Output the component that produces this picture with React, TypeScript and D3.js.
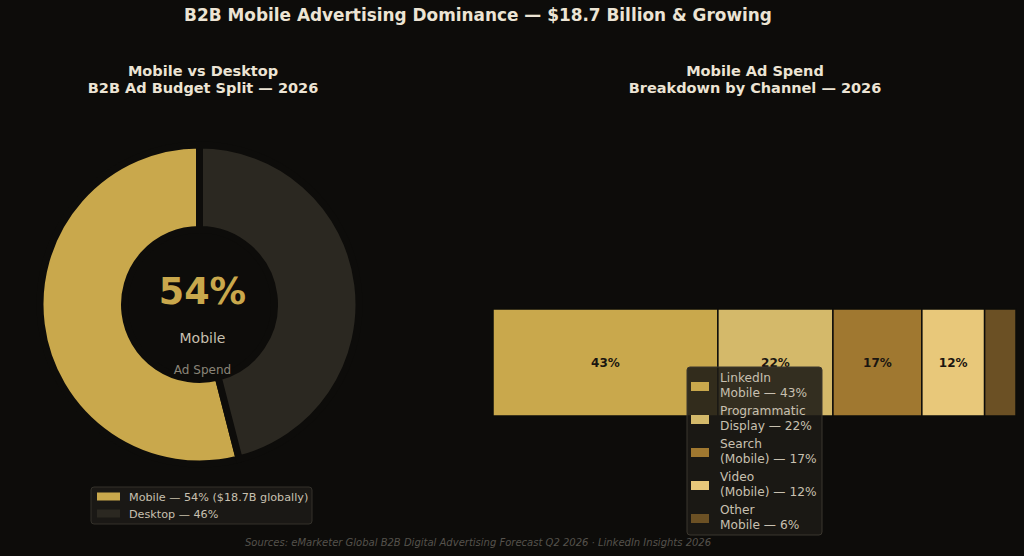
import { useEffect, useRef } from 'react';
import * as d3 from 'd3';

const W = 1024;
const H = 556;
const BG = '#0d0c0a';
const FONT = '"DejaVu Sans", sans-serif';

// budget split
const splitLabels = ['Mobile — 54% ($18.7B globally)', 'Desktop — 46%'];
const splitValues = [54, 46];
const splitColors = ['#c9a84c', '#2b2821'];

// channel breakdown
const channelLegend = [
  ['LinkedIn', 'Mobile — 43%'],
  ['Programmatic', 'Display — 22%'],
  ['Search', '(Mobile) — 17%'],
  ['Video', '(Mobile) — 12%'],
  ['Other', 'Mobile — 6%'],
];
const channelValues = [43, 22, 17, 12, 6];
const channelColors = ['#c9a84c', '#d4b96a', '#a07830', '#e8c87a', '#6b5024'];

export default function App() {
  const svgRef = useRef<SVGSVGElement | null>(null);

  useEffect(() => {
    document.body.style.margin = '0';
    const svg = d3.select(svgRef.current);
    svg.selectAll('*').remove();

    svg.append('rect').attr('width', W).attr('height', H).attr('fill', BG);

    svg.append('text')
      .attr('x', 478).attr('y', 21)
      .attr('text-anchor', 'middle')
      .attr('font-family', FONT).attr('font-weight', 'bold').attr('font-size', 16.9)
      .attr('fill', '#ece4d4')
      .text('B2B Mobile Advertising Dominance — $18.7 Billion & Growing');

    const subtitle = (x: number, lines: string[]) => {
      lines.forEach((l, i) => {
        svg.append('text')
          .attr('x', x).attr('y', 76 + i * 17)
          .attr('text-anchor', 'middle')
          .attr('font-family', FONT).attr('font-weight', 'bold').attr('font-size', 14.5)
          .attr('fill', '#ece4d4')
          .text(l);
      });
    };
    subtitle(203, ['Mobile vs Desktop', 'B2B Ad Budget Split — 2026']);
    subtitle(755, ['Mobile Ad Spend', 'Breakdown by Channel — 2026']);

    // donut
    const cx = 199.5, cy = 304.5;
    const gap = 7;
    const pie = d3.pie<number>().sort(null).startAngle(0).endAngle(-2 * Math.PI);
    const arc = d3.arc<d3.PieArcDatum<number>>()
      .innerRadius(78.5 - gap / 2)
      .outerRadius(156 + gap / 2);
    const dg = svg.append('g').attr('transform', `translate(${cx},${cy})`);
    dg.selectAll('path')
      .data(pie(splitValues))
      .join('path')
      .attr('d', arc)
      .attr('fill', (_, i) => splitColors[i])
      .attr('stroke', BG)
      .attr('stroke-width', gap)
      .attr('stroke-linejoin', 'miter');

    dg.append('text')
      .attr('x', 3).attr('y', -1)
      .attr('text-anchor', 'middle')
      .attr('font-family', FONT).attr('font-weight', 'bold').attr('font-size', 36.5)
      .attr('fill', '#c9a84c')
      .text(`${splitValues[0]}%`);
    dg.append('text')
      .attr('x', 3).attr('y', 38)
      .attr('text-anchor', 'middle')
      .attr('font-family', FONT).attr('font-size', 14)
      .attr('fill', '#c8c0b0')
      .text('Mobile');
    dg.append('text')
      .attr('x', 3).attr('y', 69)
      .attr('text-anchor', 'middle')
      .attr('font-family', FONT).attr('font-size', 12)
      .attr('fill', '#8a8478')
      .text('Ad Spend');

    // donut legend
    const lg = svg.append('g').attr('transform', 'translate(91,487)');
    lg.append('rect')
      .attr('width', 221).attr('height', 37).attr('rx', 3)
      .attr('fill', '#1a1815').attr('stroke', '#34312a');
    splitLabels.forEach((l, i) => {
      lg.append('rect')
        .attr('x', 6).attr('y', 5.5 + i * 17).attr('width', 23).attr('height', 8)
        .attr('fill', splitColors[i]);
      lg.append('text')
        .attr('x', 38).attr('y', 14 + i * 17)
        .attr('font-family', FONT).attr('font-size', 11.2)
        .attr('fill', '#c8c0b0')
        .text(l);
    });

    // stacked channel bar
    const x = d3.scaleLinear().domain([0, d3.sum(channelValues)]).range([493, 1016]);
    const y0 = 309, y1 = 416;
    const cum = d3.cumsum(channelValues);
    const segs = channelValues.map((v, i) => ({ v, start: cum[i] - v, end: cum[i], i }));
    svg.append('g').selectAll('rect')
      .data(segs)
      .join('rect')
      .attr('x', d => x(d.start)).attr('y', y0)
      .attr('width', d => x(d.end) - x(d.start)).attr('height', y1 - y0)
      .attr('fill', d => channelColors[d.i])
      .attr('stroke', '#0d0c0a').attr('stroke-width', 1.5);
    svg.append('g').selectAll('text')
      .data(segs.filter(d => d.v >= 10))
      .join('text')
      .attr('x', d => x((d.start + d.end) / 2)).attr('y', (y0 + y1) / 2 + 4.5)
      .attr('text-anchor', 'middle')
      .attr('font-family', FONT).attr('font-weight', 'bold').attr('font-size', 12)
      .attr('fill', '#1a1510')
      .text(d => `${d.v}%`);

    // channel legend
    const cg = svg.append('g').attr('transform', 'translate(687,367)');
    cg.append('rect')
      .attr('width', 135).attr('height', 168).attr('rx', 3)
      .attr('fill', '#1c1a16').attr('fill-opacity', 0.88)
      .attr('stroke', '#3a362e');
    channelLegend.forEach((lines, i) => {
      const top = 5 + i * 33;
      cg.append('rect')
        .attr('x', 4).attr('y', top + 10).attr('width', 18).attr('height', 9)
        .attr('fill', channelColors[i]);
      lines.forEach((l, j) => {
        cg.append('text')
          .attr('x', 33).attr('y', top + 10 + j * 14.5)
          .attr('font-family', FONT).attr('font-size', 12.2)
          .attr('fill', '#c8c0b0')
          .text(l);
      });
    });

    svg.append('text')
      .attr('x', 478).attr('y', 546)
      .attr('text-anchor', 'middle')
      .attr('font-family', FONT).attr('font-style', 'italic').attr('font-size', 10)
      .attr('fill', '#55524c')
      .text('Sources: eMarketer Global B2B Digital Advertising Forecast Q2 2026 · LinkedIn Insights 2026');
  }, []);

  return <svg ref={svgRef} width={W} height={H} style={{ display: 'block' }} />;
}
